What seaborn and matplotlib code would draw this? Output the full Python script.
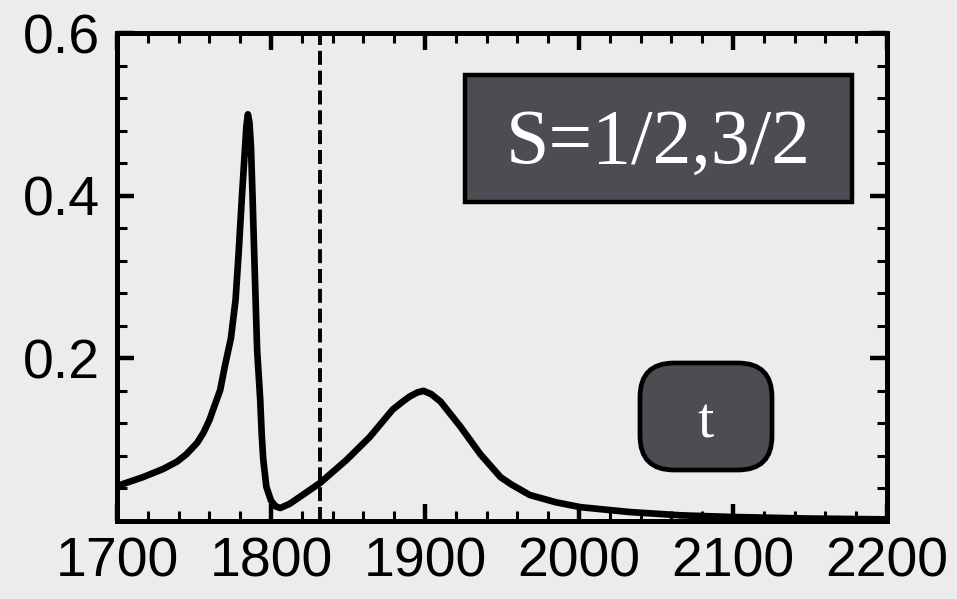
import matplotlib
matplotlib.use("Agg")
import matplotlib.pyplot as plt
import seaborn as sns
import pandas as pd
from matplotlib.patches import FancyBboxPatch, Rectangle
from matplotlib.ticker import MultipleLocator, FixedLocator
from matplotlib.transforms import IdentityTransform

# ---- data ----
energy = [1700, 1717, 1730, 1739, 1745, 1752, 1756, 1760, 1763, 1767, 1770,
          1774, 1777, 1779, 1781, 1783, 1784, 1785, 1786, 1787, 1788, 1789,
          1790, 1791, 1793, 1794, 1795, 1797, 1800, 1803, 1806, 1812, 1819,
          1832, 1849, 1864, 1879, 1885, 1890, 1895, 1899, 1904, 1910, 1923,
          1936, 1949, 1956, 1968, 1985, 2001, 2033, 2066, 2098, 2150, 2200]
signal = [0.043, 0.054, 0.064, 0.073, 0.082, 0.096, 0.108, 0.124, 0.140, 0.161,
          0.190, 0.225, 0.272, 0.330, 0.395, 0.455, 0.485, 0.500, 0.490, 0.460,
          0.400, 0.335, 0.272, 0.210, 0.149, 0.105, 0.075, 0.042, 0.025, 0.018,
          0.016, 0.021, 0.030, 0.047, 0.075, 0.103, 0.137, 0.146, 0.153, 0.158,
          0.160, 0.156, 0.147, 0.116, 0.082, 0.054, 0.045, 0.032, 0.023, 0.017,
          0.011, 0.007, 0.005, 0.003, 0.002]
dashed_x = 1832
xticks = [1700, 1800, 1900, 2000, 2100, 2200]
yticks = [0.2, 0.4, 0.6]
ytick_labels = ["0.2", "0.4", "0.6"]
label_main = "S=1/2,3/2"
label_small = "t"

sns.set_theme(style="ticks")
plt.rcParams["font.family"] = ["Liberation Sans", "DejaVu Sans"]

W, H, DPI = 957, 599, 100
bg = "#ececec"
fig = plt.figure(figsize=(W / DPI, H / DPI), dpi=DPI, facecolor=bg)
L, R, T, B = 117, 887, 33, 521
ax = fig.add_axes([L / W, (H - B) / H, (R - L) / W, (B - T) / H])
ax.set_facecolor(bg)

df = pd.DataFrame({"energy": energy, "signal": signal})
sns.lineplot(data=df, x="energy", y="signal", ax=ax, color="black", sort=False)
for ln in ax.lines:
    ln.set_linewidth(4.8)
    ln.set_solid_joinstyle("round")
    ln.set_solid_capstyle("round")
ax.axvline(dashed_x, color="black", linewidth=2.8, dashes=(3.6, 1.5))

ax.set_xlim(1700, 2200)
ax.set_ylim(0, 0.6)
ax.xaxis.set_major_locator(FixedLocator(xticks))
ax.xaxis.set_minor_locator(MultipleLocator(20))
ax.yaxis.set_major_locator(FixedLocator(yticks))
ax.yaxis.set_minor_locator(MultipleLocator(0.04))
ax.set_yticklabels(ytick_labels)
ax.set_xlabel("")
ax.set_ylabel("")

for s in ax.spines.values():
    s.set_visible(True)
    s.set_linewidth(3.6)
    s.set_color("black")

ax.tick_params(which="both", direction="in", top=True, right=True,
               colors="black")
ax.tick_params(which="major", length=12, width=3.2, labelsize=40, pad=11)
ax.tick_params(which="minor", length=7, width=2.2)
ax.tick_params(axis="y", which="major", pad=12)

# boxes in pixel coordinates (origin bottom-left)
def px(x, y):
    return x, H - y

x0, y0 = px(465, 202)
box1 = Rectangle((x0, y0), 852 - 465, 202 - 75, transform=IdentityTransform(),
                 facecolor="#4c4c53", edgecolor="black", linewidth=3.2,
                 zorder=5)
fig.add_artist(box1)
tx, ty = px(658, 163)
fig.text(tx / W, ty / H, label_main, color="white", ha="center",
         va="baseline", fontsize=56, family=["Liberation Serif", "DejaVu Serif"],
         zorder=6)

r = 34
x0, y0 = px(640, 470)
box2 = FancyBboxPatch((x0 + r, y0 + r), 772 - 640 - 2 * r, 470 - 363 - 2 * r,
                      boxstyle=f"round,pad={r},rounding_size={r}",
                      transform=IdentityTransform(), facecolor="#4c4c53",
                      edgecolor="black", linewidth=3.4, zorder=5)
fig.add_artist(box2)
tx, ty = px(706, 438)
fig.text(tx / W, ty / H, label_small, color="white", ha="center",
         va="baseline", fontsize=42, family=["Liberation Serif", "DejaVu Serif"],
         zorder=6)

fig.savefig("out.png", dpi=DPI, facecolor=bg)
